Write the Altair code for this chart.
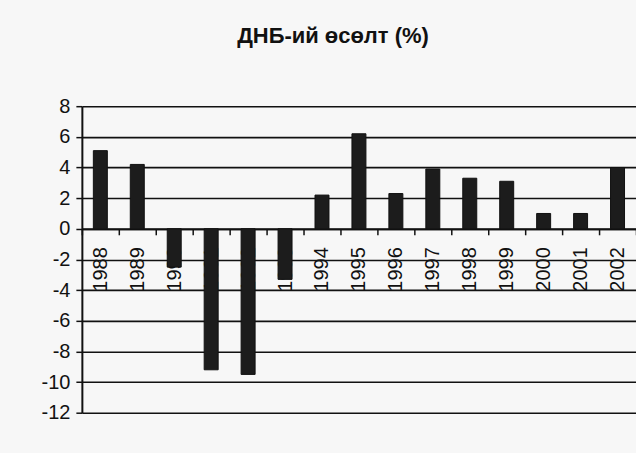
import altair as alt
import pandas as pd

years = ["1988", "1989", "1990", "1991", "1992", "1993", "1994", "1995",
         "1996", "1997", "1998", "1999", "2000", "2001", "2002"]
growth = [5.1, 4.2, -2.5, -9.2, -9.5, -3.3, 2.2, 6.2,
          2.3, 3.9, 3.3, 3.1, 1.0, 1.0, 4.0]
y_ticks = [8, 6, 4, 2, 0, -2, -4, -6, -8, -10, -12]

df = pd.DataFrame({"year": years, "growth": growth})

H = 307
unit = H / 20.0

chart = alt.Chart(df).mark_bar(size=14, color="#1c1c1c", stroke="#111", strokeWidth=1).encode(
    x=alt.X("year:N", sort=years,
            scale=alt.Scale(type="band", paddingInner=0, paddingOuter=0),
            axis=alt.Axis(title=None, orient="bottom", offset=-round(12 * unit, 1),
                          labelAngle=-90, labelFontSize=20, labelFont="Liberation Sans",
                          labelColor="#111", labelPadding=12, tickBand="extent",
                          tickSize=6, tickColor="#111", tickWidth=1.5,
                          domainColor="#111", domainWidth=2, grid=False,
                          labelBaseline="middle")),
    y=alt.Y("growth:Q",
            scale=alt.Scale(domain=[-12, 8], nice=False, zero=False),
            axis=alt.Axis(title=None, values=y_ticks, labelFontSize=20,
                          labelExpr="toString(datum.value)",
                          labelFont="Liberation Sans", labelColor="#111",
                          tickSize=6, tickColor="#111", tickWidth=1.5,
                          domainColor="#111", domainWidth=2,
                          gridColor="#111", gridWidth=1.6, gridOpacity=1,
                          labelPadding=6)),
).properties(
    width=555,
    height=H,
    title=alt.TitleParams("ДНБ-ий өсөлт (%)", font="Liberation Sans", fontSize=22,
                          fontWeight="bold", color="#111", anchor="middle",
                          offset=48, dx=-26),
    autosize=alt.AutoSizeParams(type="none"),
    padding={"left": 82, "top": 106, "right": 0, "bottom": 40},
    background="#f7f7f7",
).configure_view(stroke=None)

chart.save("out.html", embed_options={"renderer": "svg", "actions": False})
